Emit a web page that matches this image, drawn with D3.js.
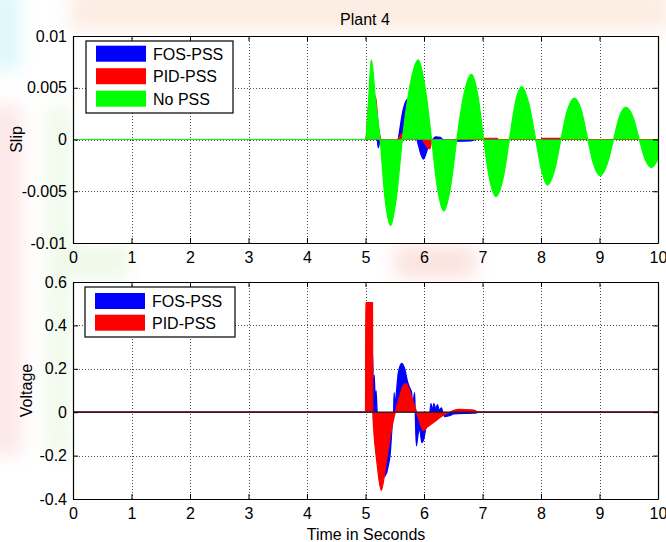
<!DOCTYPE html>
<html>
<head>
<meta charset="utf-8">
<script src="https://cdn.jsdelivr.net/npm/d3@7"></script>
<style>
  body { margin: 0; background: #fff; }
  svg text { font-family: "Liberation Sans", Arial, sans-serif; font-size: 16px; fill: #000; }
</style>
</head>
<body>
<div id="chart"></div>
<script>
// ---- data ----
var xTicks = [0, 1, 2, 3, 4, 5, 6, 7, 8, 9, 10];
var slipTicks = [-0.01, -0.005, 0, 0.005, 0.01];
var slipTickLabels = ["-0.01", "-0.005", "0", "0.005", "0.01"];
var voltTicks = [-0.4, -0.2, 0, 0.2, 0.4, 0.6];
var voltTickLabels = ["-0.4", "-0.2", "0", "0.2", "0.4", "0.6"];

var slipNames = ["FOS-PSS", "PID-PSS", "No PSS"];
var voltNames = ["FOS-PSS", "PID-PSS"];
var seriesColors = ["#0000ff", "#ff0000", "#00ff00"];

// [time, slip]
var slipFOS = [[0, 0], [5.0, 0], [5.08, 0.003], [5.16, 0.001], [5.2, 0], [5.22, -0.0008], [5.25, 0],
  [5.35, -0.002], [5.43, -0.0035], [5.5, -0.002], [5.56, 0], [5.64, 0.0028], [5.72, 0.0039],
  [5.8, 0.002], [5.88, 0], [5.99, -0.0019], [6.08, -0.0006], [6.15, 0], [6.2, 0.00026],
  [6.28, 0.0002], [6.32, 0], [6.5, -0.00016], [6.8, -0.00014], [6.9, 0], [10, 0]];
var slipPID = [[0, 0], [5.0, 0], [5.07, 0.004], [5.17, 0.0042], [5.22, 0.0012], [5.26, 0],
  [5.4, -0.004], [5.55, 0], [5.82, 0.0012], [5.92, 0.0005], [5.97, 0], [6.1, -0.0009], [6.14, 0],
  [6.3, -0.001], [6.5, 0], [7.0, 0], [7.02, 0.00012], [7.25, 0.00012], [7.27, 0], [8.0, 0],
  [8.02, 0.0001], [8.35, 0.0001], [8.37, 0], [10, 0]];
var slipNoPSS = [[0, 0], [5.0, 0], [5.05, 0.0036], [5.1, 0.0077], [5.17, 0.0039], [5.25, 0],
  [5.33, -0.0055], [5.43, -0.0083], [5.53, -0.0055], [5.63, 0], [5.76, 0.0052], [5.9, 0.0077],
  [6.02, 0.005], [6.13, 0], [6.23, -0.0047], [6.34, -0.0069], [6.45, -0.0047], [6.56, 0],
  [6.68, 0.0043], [6.81, 0.0063], [6.92, 0.0043], [7.02, 0], [7.12, -0.0038], [7.23, -0.0055],
  [7.35, -0.0038], [7.46, 0], [7.56, 0.0035], [7.67, 0.0051], [7.79, 0.0035], [7.91, 0],
  [8.01, -0.003], [8.11, -0.0044], [8.23, -0.003], [8.34, 0], [8.45, 0.0028], [8.57, 0.004],
  [8.69, 0.0028], [8.8, 0], [8.9, -0.0024], [9.01, -0.0035], [9.13, -0.0024], [9.24, 0],
  [9.34, 0.0022], [9.45, 0.0031], [9.57, 0.0022], [9.68, 0], [9.78, -0.0019], [9.89, -0.0027],
  [10, -0.0019]];

// [time, voltage]
var voltFOS = [[0, 0], [5.0, 0], [5.01, 0.3], [5.12, 0.26], [5.14, 0.05], [5.15, 0.17], [5.17, 0.02],
  [5.18, 0.1], [5.2, 0], [5.23, -0.1], [5.3, -0.3], [5.36, -0.28], [5.39, -0.245], [5.42, -0.2],
  [5.46, -0.05], [5.48, 0], [5.49, 0.09], [5.5, 0.03], [5.52, 0.07], [5.56, 0.18], [5.62, 0.225],
  [5.67, 0.2], [5.72, 0.14], [5.76, 0.11], [5.79, 0.09], [5.8, 0.02], [5.84, 0.09], [5.85, 0],
  [5.87, -0.155], [5.9, -0.1], [5.93, -0.08], [5.96, -0.14], [6.0, -0.12], [6.05, -0.04], [6.1, 0],
  [6.12, 0.04], [6.14, 0.01], [6.17, 0.04], [6.2, 0.015], [6.23, 0.035], [6.26, 0.01], [6.3, 0.02],
  [6.32, 0], [6.35, -0.02], [6.45, -0.015], [6.5, -0.008], [6.9, -0.003], [6.92, 0], [10, 0]];
var voltPID = [[0, 0], [5.0, 0], [5.005, 0.505], [5.12, 0.505], [5.125, 0], [5.14, -0.08],
  [5.19, -0.22], [5.27, -0.36], [5.36, -0.22], [5.45, -0.07], [5.51, 0], [5.58, 0.07], [5.64, 0.12],
  [5.69, 0.132], [5.74, 0.11], [5.8, 0.06], [5.875, 0], [5.93, -0.05], [5.99, -0.085],
  [6.05, -0.07], [6.2, -0.04], [6.35, -0.01], [6.44, 0], [6.5, 0.008], [6.6, 0.013], [6.8, 0.011],
  [6.88, 0.008], [6.9, 0], [10, 0]];

// ---- layout ----
var width = 666, height = 542;
var svg = d3.select("#chart").append("svg")
    .attr("width", width)
    .attr("height", height);

// faint watermark behind the figure
var defs = svg.append("defs");
defs.append("filter").attr("id", "blur")
    .attr("x", "-50%").attr("y", "-50%").attr("width", "200%").attr("height", "200%")
    .append("feGaussianBlur").attr("stdDeviation", 9);
var wm = svg.append("g").attr("filter", "url(#blur)").attr("opacity", 0.4);
wm.append("rect").attr("x", -10).attr("y", -10).attr("width", 30).attr("height", 80).attr("fill", "#a8ecf4");
wm.append("rect").attr("x", -10).attr("y", 105).attr("width", 32).attr("height", 350).attr("fill", "#f9c4c4");
wm.append("rect").attr("x", 48).attr("y", 105).attr("width", 22).attr("height", 350).attr("fill", "#d8efc8");
wm.append("rect").attr("x", 70).attr("y", -10).attr("width", 600).attr("height", 40).attr("fill", "#fbd0b8");
wm.append("rect").attr("x", 395).attr("y", 246).attr("width", 80).attr("height", 32).attr("fill", "#f7b8ad");
wm.append("rect").attr("x", 70).attr("y", 246).attr("width", 60).attr("height", 32).attr("fill", "#d8efc8");

var x = d3.scaleLinear().domain([0, 10]).range([73, 658]);

var panels = [
  { top: 36, bottom: 243, domain: [-0.01, 0.01], ticks: slipTicks, labels: slipTickLabels,
    series: [slipFOS, slipPID, slipNoPSS], names: slipNames, ylabel: "Slip", ylabelX: 22,
    legend: { x: 86, y: 41, w: 147, h: 72, row0: 53.7, step: 22.5 }, zeroLine: false },
  { top: 282, bottom: 499, domain: [-0.4, 0.6], ticks: voltTicks, labels: voltTickLabels,
    series: [voltFOS, voltPID], names: voltNames, ylabel: "Voltage", ylabelX: 32,
    legend: { x: 85, y: 287, w: 150, h: 50, row0: 301, step: 21.7 }, zeroLine: true }
];

panels.forEach(function (p) {
  var y = d3.scaleLinear().domain(p.domain).range([p.bottom, p.top]);
  var h = p.bottom - p.top, w = x.range()[1] - x.range()[0];
  var g = svg.append("g");

  g.append("rect")
      .attr("x", x(0)).attr("y", p.top)
      .attr("width", w).attr("height", h)
      .attr("fill", "#fff");

  // grid
  g.append("g")
      .attr("transform", "translate(0," + p.bottom + ")")
      .call(d3.axisBottom(x).tickValues(xTicks).tickSize(-h).tickFormat(""))
      .call(function (s) {
        s.select(".domain").remove();
        s.selectAll("line").attr("class", "grid");
      });
  g.append("g")
      .attr("transform", "translate(" + x(0) + ",0)")
      .call(d3.axisLeft(y).tickValues(p.ticks).tickSize(-w).tickFormat(""))
      .call(function (s) {
        s.select(".domain").remove();
        s.selectAll("line").attr("class", "grid");
      });
  g.selectAll("line.grid")
      .attr("stroke", "#4a4a4a")
      .attr("stroke-dasharray", "1,2")
      .attr("shape-rendering", "crispEdges");

  // series drawn as filled bands from zero
  var area = d3.area()
      .x(function (d) { return x(d[0]); })
      .y0(y(0))
      .y1(function (d) { return y(d[1]); })
      .curve(d3.curveMonotoneX);
  var line = d3.line()
      .x(function (d) { return x(d[0]); })
      .y(function (d) { return y(d[1]); })
      .curve(d3.curveMonotoneX);

  p.series.forEach(function (data, i) {
    g.append("path")
        .datum(data)
        .attr("d", area)
        .attr("fill", seriesColors[i]);
    g.append("path")
        .datum(data)
        .attr("d", line)
        .attr("fill", "none")
        .attr("stroke", seriesColors[i])
        .attr("stroke-width", 1.2);
  });

  if (p.zeroLine) {
    g.append("line")
        .attr("x1", x(0)).attr("x2", x(10))
        .attr("y1", y(0)).attr("y2", y(0))
        .attr("stroke", "#1a1a1a").attr("stroke-width", 1.3);
  }

  // axes, ticks inside on all four sides
  var fmtY = function (d) { return p.labels[p.ticks.indexOf(d)]; };
  g.append("g")
      .attr("transform", "translate(0," + p.bottom + ")")
      .call(d3.axisBottom(x).tickValues(xTicks).tickSize(-5).tickPadding(9).tickSizeOuter(0)
        .tickFormat(function (d) { return String(d); }));
  g.append("g")
      .attr("transform", "translate(0," + p.top + ")")
      .call(d3.axisTop(x).tickValues(xTicks).tickSize(-5).tickSizeOuter(0).tickFormat(""));
  g.append("g")
      .attr("transform", "translate(" + x(0) + ",0)")
      .call(d3.axisLeft(y).tickValues(p.ticks).tickSize(-5).tickPadding(6).tickSizeOuter(0).tickFormat(fmtY));
  g.append("g")
      .attr("transform", "translate(" + x(10) + ",0)")
      .call(d3.axisRight(y).tickValues(p.ticks).tickSize(-5).tickSizeOuter(0).tickFormat(""));

  g.selectAll(".tick text").attr("font-size", 16).attr("font-family", "Liberation Sans, Arial, sans-serif");
  g.selectAll(".domain").attr("stroke", "#000").attr("stroke-width", 1.2);
  g.selectAll(".tick line").filter(function () { return this.getAttribute("class") !== "grid"; })
      .attr("stroke", "#000");

  // y label
  g.append("text")
      .attr("transform", "translate(" + p.ylabelX + "," + ((p.top + p.bottom) / 2) + ") rotate(-90)")
      .attr("text-anchor", "middle")
      .text(p.ylabel);

  // legend
  var L = p.legend;
  var lg = g.append("g");
  lg.append("rect")
      .attr("x", L.x).attr("y", L.y).attr("width", L.w).attr("height", L.h)
      .attr("fill", "#fff").attr("stroke", "#000").attr("stroke-width", 1.2);
  p.names.forEach(function (name, i) {
    var cy = L.row0 + i * L.step;
    lg.append("rect")
        .attr("x", L.x + 10).attr("y", cy - 8)
        .attr("width", 50).attr("height", 16)
        .attr("fill", seriesColors[i]);
    lg.append("text")
        .attr("x", L.x + 67).attr("y", cy + 6)
        .text(name);
  });
});

svg.append("text")
    .attr("x", 365).attr("y", 25)
    .attr("text-anchor", "middle")
    .text("Plant 4");

svg.append("text")
    .attr("x", 366).attr("y", 540)
    .attr("text-anchor", "middle")
    .text("Time in Seconds");
</script>
</body>
</html>
